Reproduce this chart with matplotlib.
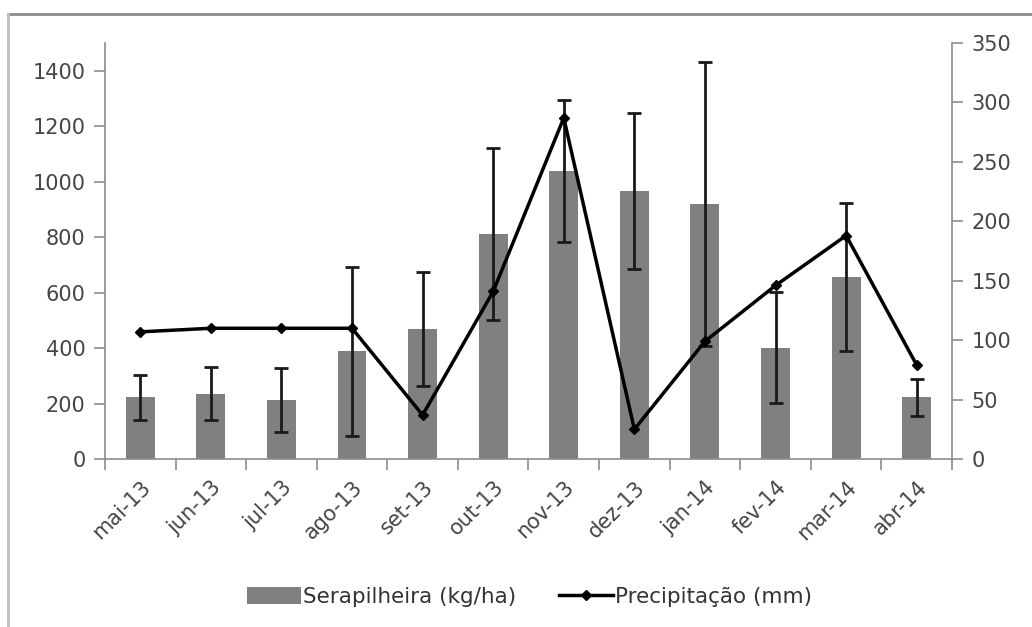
import numpy as np
import matplotlib
matplotlib.use('Agg')
import matplotlib.pyplot as plt
from matplotlib.lines import Line2D

# data
months = ['mai-13', 'jun-13', 'jul-13', 'ago-13', 'set-13', 'out-13',
          'nov-13', 'dez-13', 'jan-14', 'fev-14', 'mar-14', 'abr-14']
serapilheira = [222, 236, 212, 388, 470, 812, 1040, 966, 920, 402, 656, 222]
serapilheira_err = [81, 95, 115, 305, 206, 310, 256, 280, 512, 200, 266, 67]
precipitacao = [107, 110, 110, 110, 37, 141, 287, 25, 99, 146, 188, 79]

plt.rcParams['font.family'] = ['DejaVu Sans']
text_col = '#454545'
axis_col = '#8c8c8c'

fig = plt.figure(figsize=(10.32, 6.27), dpi=100)
ax = fig.add_axes([0.1017, 0.2679, 0.8208, 0.6635])
ax2 = ax.twinx()

x = np.arange(len(months))

# bars with error bars (primary axis)
ax.bar(x, serapilheira, width=0.41, color='#808080', zorder=2,
       label='Serapilheira (kg/ha)')
ax.errorbar(x, serapilheira, yerr=serapilheira_err, fmt='none',
            ecolor='#1a1a1a', elinewidth=2, capsize=5, capthick=2, zorder=3)

# precipitation line (secondary axis)
ax2.plot(x, precipitacao, color='black', lw=2.5, marker='D', markersize=5,
         zorder=4, label='Precipitação (mm)')

ax.set_xlim(-0.5, len(months) - 0.5)
ax.set_ylim(0, 1500)
ax.set_yticks(range(0, 1401, 200))
ax2.set_ylim(0, 350)
ax2.set_yticks(range(0, 351, 50))

# x ticks between categories, labels at centres
ax.set_xticks(np.arange(-0.5, len(months), 1.0))
ax.set_xticklabels([])
ax.set_xticks(x, minor=True)
ax.set_xticklabels(months, minor=True, rotation=45, ha='right',
                   rotation_mode='anchor', fontsize=15, color=text_col)
ax.tick_params(axis='x', which='minor', length=0, pad=13)
ax.tick_params(axis='x', which='major', length=8, color=axis_col, width=1.2)

for a in (ax, ax2):
    a.tick_params(axis='y', length=8, width=1.2, color=axis_col,
                  labelsize=15, labelcolor=text_col, pad=6)
    for s in a.spines.values():
        s.set_color(axis_col)
        s.set_linewidth(1.2)
    a.spines['top'].set_visible(False)
ax.spines['right'].set_visible(False)
ax2.spines['left'].set_visible(False)
ax2.spines['bottom'].set_visible(False)

# legend at the bottom
h1, l1 = ax.get_legend_handles_labels()
h2, l2 = ax2.get_legend_handles_labels()
leg = fig.legend(h1 + h2, l1 + l2, loc='center', bbox_to_anchor=(0.513, 0.048),
                 ncol=2, frameon=False, fontsize=15.5, handlelength=2.5,
                 handleheight=0.8, handletextpad=0.1, columnspacing=2.0)
for t in leg.get_texts():
    t.set_color('#333333')

# outer frame (only top and left edges visible in the screenshot)
fig.add_artist(Line2D([8 / 1032, 1.0], [1 - 14 / 627, 1 - 14 / 627],
                      color='#8c8c8c', lw=2, transform=fig.transFigure))
fig.add_artist(Line2D([8 / 1032, 8 / 1032], [0.0, 1 - 14 / 627],
                      color='#bfbfbf', lw=2, transform=fig.transFigure))

fig.savefig('out.png', dpi=100)
